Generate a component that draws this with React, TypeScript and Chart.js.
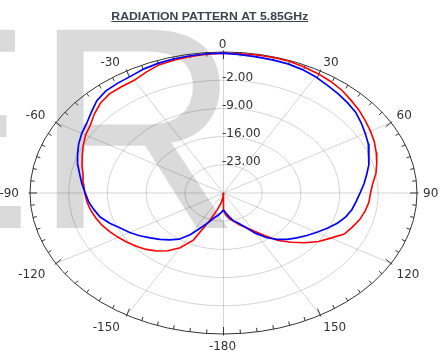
import { useEffect, useRef } from "react";
import { Chart, registerables } from "chart.js";

Chart.register(...registerables);

const TITLE = "RADIATION PATTERN AT 5.85GHz";
const WATERMARK = "ER";
const R_MIN = -30;
const R_MAX = 5;
const RING_VALUES = [-23, -16, -9, -2];
const RING_LABELS = ["-23.00", "-16.00", "-9.00", "-2.00"];
const SPOKE_ANGLES = [0, 30, 60, 90, 120, 150, 180, -150, -120, -90, -60, -30];
const ANGLE_LABELS = ["0", "30", "60", "90", "120", "150", "-180", "-150", "-120", "-90", "-60", "-30"];

const ANGLES = [
  -180, -175, -170, -165, -160, -155, -150, -145, -140, -135, -130, -125, -120,
  -115, -110, -105, -100, -95, -90, -85, -80, -75, -70, -65, -60, -55, -50, -45,
  -40, -35, -30, -25, -20, -15, -10, -5, 0, 5, 10, 15, 20, 25, 30, 35, 40, 45, 50,
  55, 60, 65, 70, 75, 80, 85, 90, 95, 100, 105, 110, 115, 120, 125, 130, 135, 140,
  145, 150, 155, 160, 165, 170, 175, 180,
];

const BLUE_DB = [
  -25.8, -25.1, -24.4, -23.7, -22.3, -20.6, -18.1, -16.0, -14.8, -13.7, -12.7, -11.5, -10.4,
  -9.4, -8.1, -6.9, -6.2, -5.5, -5.0, -4.3, -3.6, -2.7, -1.9, -1.1, -0.4, 0.2, 1.2, 2.4,
  3.1, 3.3, 3.5, 4.0, 4.3, 4.5, 4.6, 4.7, 4.7, 4.5, 4.3, 4.2, 4.1, 3.8, 3.3, 2.7, 2.2, 1.7, 1.2,
  0.4, -0.4, -1.1, -2.0, -2.8, -3.7, -4.5, -5.3, -5.9, -6.4, -7.1, -8.1, -9.3, -10.5, -11.6, -12.7, -13.7, -15.0,
  -16.5, -18.5, -20.6, -22.0, -22.8, -24.0, -25.0, -25.8,
];

const RED_DB = [
  -30.0, -29.0, -27.5, -25.8, -22.7, -17.1, -14.3, -12.5, -11.2, -10.2, -9.4, -8.7, -8.0,
  -7.3, -6.6, -6.1, -5.6, -5.2, -4.9, -4.6, -4.2, -3.5, -2.8, -2.0, -1.2, -0.6, 0.5, 1.5,
  2.1, 2.2, 2.3, 3.1, 3.9, 4.2, 4.4, 4.6, 4.7, 4.7, 4.8, 4.8, 4.8, 4.5, 4.2, 3.8, 3.3, 2.6, 2.0,
  1.3, 0.7, 0.1, -0.6, -1.3, -2.0, -2.9, -3.4, -3.6, -4.0, -4.5, -5.2, -5.9, -7.6, -9.0, -10.8, -12.7, -14.6,
  -17.1, -19.2, -20.6, -21.6, -22.7, -23.4, -24.4, -25.5,
];

const RANGE = R_MAX - R_MIN;

function toPoints(values: number[]) {
  const pts = values.map((v, i) => {
    const t = (ANGLES[i] * Math.PI) / 180;
    const r = v - R_MIN;
    return { x: r * Math.sin(t), y: r * Math.cos(t) };
  });
  pts.push(pts[0]);
  return pts;
}

const polarGrid = {
  id: "polarGrid",
  beforeDatasetsDraw(chart: any) {
    const { ctx } = chart;
    const xs = chart.scales.x;
    const ys = chart.scales.y;
    const px = (r: number, a: number) => xs.getPixelForValue(r * Math.sin((a * Math.PI) / 180));
    const py = (r: number, a: number) => ys.getPixelForValue(r * Math.cos((a * Math.PI) / 180));
    const cx = xs.getPixelForValue(0);
    const cy = ys.getPixelForValue(0);
    const rx = (r: number) => xs.getPixelForValue(r) - cx;
    const ry = (r: number) => cy - ys.getPixelForValue(r);

    ctx.save();
    // watermark
    ctx.fillStyle = "#dadada";
    ctx.font = "288px 'Liberation Sans', Arial, sans-serif";
    ctx.textAlign = "left";
    ctx.textBaseline = "alphabetic";
    ctx.fillText(WATERMARK, -159, 228);

    // rings
    ctx.strokeStyle = "rgba(0,0,0,0.17)";
    ctx.lineWidth = 1;
    RING_VALUES.forEach((v) => {
      const r = v - R_MIN;
      ctx.beginPath();
      ctx.ellipse(cx, cy, rx(r), ry(r), 0, 0, Math.PI * 2);
      ctx.stroke();
    });
    // spokes
    SPOKE_ANGLES.forEach((a) => {
      ctx.beginPath();
      ctx.moveTo(cx, cy);
      ctx.lineTo(px(RANGE, a), py(RANGE, a));
      ctx.stroke();
    });

    // outer ellipse
    ctx.strokeStyle = "#333";
    ctx.lineWidth = 1;
    ctx.beginPath();
    ctx.ellipse(cx, cy, rx(RANGE), ry(RANGE), 0, 0, Math.PI * 2);
    ctx.stroke();

    // ticks every 5 deg
    const Rx = rx(RANGE);
    const Ry = ry(RANGE);
    for (let a = -180; a < 180; a += 5) {
      const t = (a * Math.PI) / 180;
      const s = Math.sin(t);
      const c = Math.cos(t);
      const ex = px(RANGE, a);
      const ey = py(RANGE, a);
      let nx = s / Rx;
      let ny = -c / Ry;
      const n = Math.hypot(nx, ny);
      nx /= n;
      ny /= n;
      const major = a % 30 === 0;
      const outL = major ? 1.5 : 0;
      const inL = major ? 7 : 4;
      ctx.beginPath();
      ctx.moveTo(ex + nx * outL, ey + ny * outL);
      ctx.lineTo(ex - nx * inL, ey - ny * inL);
      ctx.stroke();
    }

    // angle labels
    ctx.fillStyle = "#333";
    ctx.font = "12px 'DejaVu Sans', sans-serif";
    const capH = 8.75;
    SPOKE_ANGLES.forEach((a, i) => {
      const t = (a * Math.PI) / 180;
      const s = Math.sin(t);
      const c = Math.cos(t);
      const ex = px(RANGE, a);
      const ey = py(RANGE, a);
      const fs = Math.min(1, Math.abs(s) * 1.5);
      const fc = Math.min(1, Math.abs(c) * 1.5);
      let gx = -1;
      let align: CanvasTextAlign = "center";
      if (s > 0.01) {
        gx = (2 + 4 * Math.abs(s)) * fs;
        align = "left";
      } else if (s < -0.01) {
        gx = -(7 + 4 * Math.abs(s)) * fs;
        align = "right";
      }
      let by: number;
      if (c > 0.01) by = ey - 4.5 * fc;
      else if (c < -0.01) by = ey + 7 * fc + capH;
      else by = ey + capH / 2;
      ctx.textAlign = align;
      ctx.textBaseline = "alphabetic";
      ctx.fillText(ANGLE_LABELS[i], ex + gx, by);
    });

    // radial labels
    ctx.fillStyle = "#333";
    ctx.textAlign = "left";
    RING_VALUES.forEach((v, i) => {
      const r = v - R_MIN;
      ctx.fillText(RING_LABELS[i], cx - 1.5, py(r, 0) + 0.5);
    });
    ctx.restore();
  },
  afterDraw(chart: any) {
    const { ctx } = chart;
    const color = "#3d4150";
    ctx.save();
    ctx.fillStyle = color;
    ctx.font = "bold 10px 'Liberation Sans', Arial, sans-serif";
    ctx.textAlign = "center";
    ctx.textBaseline = "alphabetic";
    const w = ctx.measureText(TITLE).width;
    const target = 197;
    const xc = 209.8;
    ctx.translate(xc, 20);
    ctx.scale(target / w, 1);
    ctx.fillText(TITLE, 0, 0);
    ctx.restore();
    ctx.save();
    ctx.strokeStyle = color;
    ctx.lineWidth = 1;
    ctx.beginPath();
    ctx.moveTo(xc - target / 2, 21.5);
    ctx.lineTo(xc + target / 2, 21.5);
    ctx.stroke();
    ctx.restore();
  },
};

export default function App() {
  const ref = useRef<HTMLCanvasElement>(null);
  useEffect(() => {
    if (!ref.current) return;
    const chart = new Chart(ref.current, {
      type: "scatter",
      data: {
        datasets: [
          {
            label: "Blue",
            data: toPoints(BLUE_DB),
            showLine: true,
            borderColor: "#0000ff",
            backgroundColor: "#0000ff",
            borderWidth: 1.7,
            pointRadius: 0,
            tension: 0,
          },
          {
            label: "Red",
            data: toPoints(RED_DB),
            showLine: true,
            borderColor: "#ff0000",
            backgroundColor: "#ff0000",
            borderWidth: 1.6,
            pointRadius: 0,
            tension: 0,
          },
        ],
      },
      options: {
        animation: false,
        responsive: false,
        layout: { padding: { left: 30, right: 29, top: 52, bottom: 18 } },
        scales: {
          x: { type: "linear", min: -RANGE, max: RANGE, display: false },
          y: { type: "linear", min: -RANGE, max: RANGE, display: false },
        },
        plugins: {
          legend: { display: false },
          tooltip: { enabled: false },
          title: { display: false },
        },
      },
      plugins: [polarGrid],
    } as any);
    return () => chart.destroy();
  }, []);
  return (
    <div style={{ position: "absolute", left: 0, top: 0, width: 446, height: 352, background: "#fff" }}>
      <canvas ref={ref} width={446} height={352} style={{ display: "block", width: 446, height: 352 }} />
    </div>
  );
}
